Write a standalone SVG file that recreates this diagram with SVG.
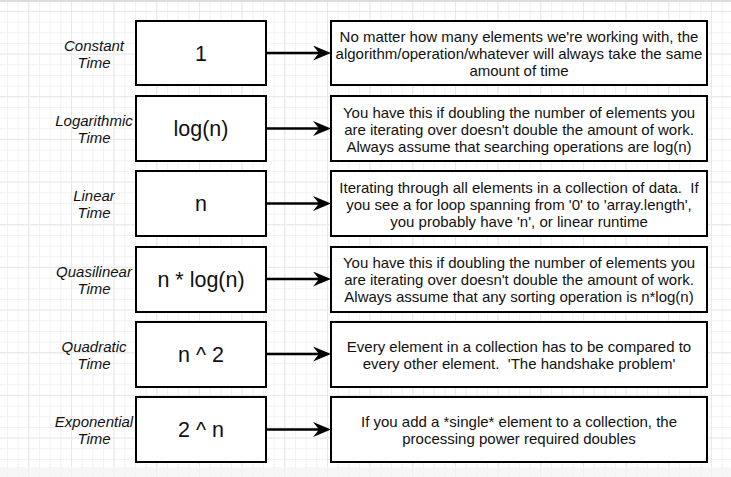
<svg xmlns="http://www.w3.org/2000/svg" width="731" height="477" viewBox="0 0 731 477">
  <defs>
    <pattern id="minor" patternUnits="userSpaceOnUse" x="7" y="0.25" width="10.667" height="10.667">
      <path d="M0,0.5 H10.667 M0.5,0 V10.667" fill="none" stroke="#f2f2f2" stroke-width="1"/>
    </pattern>
    <pattern id="major" patternUnits="userSpaceOnUse" x="28.3" y="10.9" width="42.667" height="42.667">
      <path d="M0,0.5 H42.667 M0.5,0 V42.667" fill="none" stroke="#e8e8e8" stroke-width="1"/>
    </pattern>
    <marker id="arrow" markerUnits="userSpaceOnUse" viewBox="0 0 18 15" refX="6" refY="7.5" markerWidth="18" markerHeight="15" orient="auto">
      <path d="M0,0 L18,7.5 L0,15 L6,7.5 Z" fill="#000"/>
    </marker>
  </defs>
  <style>
    .lbl { font-family: "Liberation Sans", Arial, sans-serif; font-style: italic; font-size: 15px; fill: #111; text-anchor: middle; }
    .big { font-family: "Liberation Sans", Arial, sans-serif; font-size: 21.5px; fill: #111; text-anchor: middle; }
    .desc { font-family: "Liberation Sans", Arial, sans-serif; font-size: 15px; fill: #111; text-anchor: middle; white-space: pre; }
    .box { fill: #fff; stroke: #000; stroke-width: 2; }
    .conn { fill: none; stroke: #000; stroke-width: 2.5; marker-end: url(#arrow); }
  </style>

  <rect x="0" y="0" width="731" height="477" fill="#fff"/>
  <rect x="0" y="0" width="731" height="477" fill="url(#minor)"/>
  <rect x="0" y="0" width="731" height="477" fill="url(#major)"/>
  <rect x="0" y="0" width="731" height="2" fill="#dcdcdc"/>
  <rect x="0" y="467" width="731" height="10" fill="#f4f4f4" opacity="0.7"/>

  <g id="connectors">
    <line class="conn" x1="267" y1="53" x2="319" y2="53"/>
    <line class="conn" x1="267" y1="128.5" x2="319" y2="128.5"/>
    <line class="conn" x1="267" y1="203.5" x2="319" y2="203.5"/>
    <line class="conn" x1="267" y1="279" x2="319" y2="279"/>
    <line class="conn" x1="267" y1="354" x2="319" y2="354"/>
    <line class="conn" x1="267" y1="429.5" x2="319" y2="429.5"/>
  </g>

  <g id="label-constant">
    <text class="lbl" x="94" y="51">Constant</text>
    <text class="lbl" x="94" y="68">Time</text>
  </g>
  <g id="node-constant">
    <rect class="box" x="136" y="21" width="130" height="64"/>
    <text class="big" x="201" y="60.5">1</text>
  </g>
  <g id="desc-constant">
    <rect class="box" x="331" y="21" width="376" height="64"/>
    <text class="desc" x="519" y="42">No matter how many elements we're working with, the</text>
    <text class="desc" x="519" y="59">algorithm/operation/whatever will always take the same</text>
    <text class="desc" x="519" y="76">amount of time</text>
  </g>

  <g id="label-log">
    <text class="lbl" x="94" y="126">Logarithmic</text>
    <text class="lbl" x="94" y="143">Time</text>
  </g>
  <g id="node-log">
    <rect class="box" x="136" y="96" width="130" height="65"/>
    <text class="big" x="201" y="136">log(n)</text>
  </g>
  <g id="desc-log">
    <rect class="box" x="331" y="96" width="376" height="65"/>
    <text class="desc" x="519" y="117.5">You have this if doubling the number of elements you</text>
    <text class="desc" x="519" y="134.5">are iterating over doesn't double the amount of work.</text>
    <text class="desc" x="519" y="151.5">Always assume that searching operations are log(n)</text>
  </g>

  <g id="label-linear">
    <text class="lbl" x="94" y="201">Linear</text>
    <text class="lbl" x="94" y="218">Time</text>
  </g>
  <g id="node-linear">
    <rect class="box" x="136" y="171" width="130" height="65"/>
    <text class="big" x="201" y="211">n</text>
  </g>
  <g id="desc-linear">
    <rect class="box" x="331" y="171" width="376" height="65"/>
    <text class="desc" x="519" y="192.5">Iterating through all elements in a collection of data.  If</text>
    <text class="desc" x="519" y="209.5">you see a for loop spanning from '0' to 'array.length',</text>
    <text class="desc" x="519" y="226.5">you probably have 'n', or linear runtime</text>
  </g>

  <g id="label-quasi">
    <text class="lbl" x="94" y="276.5">Quasilinear</text>
    <text class="lbl" x="94" y="293.5">Time</text>
  </g>
  <g id="node-quasi">
    <rect class="box" x="136" y="247" width="130" height="65"/>
    <text class="big" x="201" y="286.5">n * log(n)</text>
  </g>
  <g id="desc-quasi">
    <rect class="box" x="331" y="247" width="376" height="65"/>
    <text class="desc" x="519" y="268">You have this if doubling the number of elements you</text>
    <text class="desc" x="519" y="285">are iterating over doesn't double the amount of work.</text>
    <text class="desc" x="519" y="302">Always assume that any sorting operation is n*log(n)</text>
  </g>

  <g id="label-quad">
    <text class="lbl" x="94" y="351.5">Quadratic</text>
    <text class="lbl" x="94" y="368.5">Time</text>
  </g>
  <g id="node-quad">
    <rect class="box" x="136" y="322" width="130" height="65"/>
    <text class="big" x="201" y="361.5">n ^ 2</text>
  </g>
  <g id="desc-quad">
    <rect class="box" x="331" y="322" width="376" height="65"/>
    <text class="desc" x="519" y="351.5">Every element in a collection has to be compared to</text>
    <text class="desc" x="519" y="368.5">every other element.  'The handshake problem'</text>
  </g>

  <g id="label-exp">
    <text class="lbl" x="94" y="427">Exponential</text>
    <text class="lbl" x="94" y="444">Time</text>
  </g>
  <g id="node-exp">
    <rect class="box" x="136" y="397" width="130" height="65"/>
    <text class="big" x="201" y="437">2 ^ n</text>
  </g>
  <g id="desc-exp">
    <rect class="box" x="331" y="397" width="376" height="65"/>
    <text class="desc" x="519" y="427">If you add a *single* element to a collection, the</text>
    <text class="desc" x="519" y="444">processing power required doubles</text>
  </g>
</svg>
